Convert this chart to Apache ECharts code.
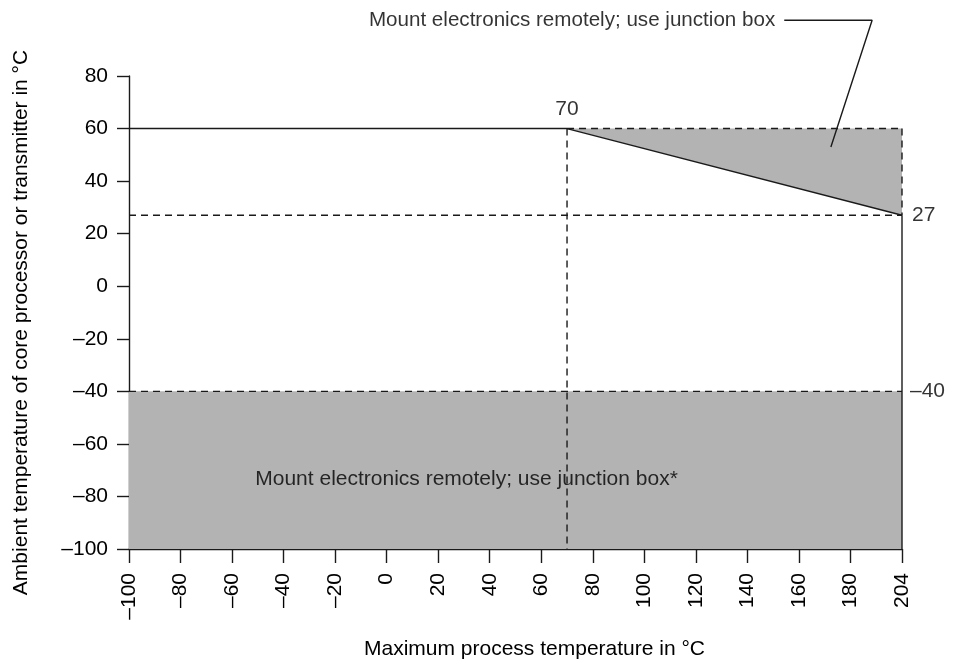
<!DOCTYPE html>
<html><head><meta charset="utf-8">
<script src="https://cdn.jsdelivr.net/npm/echarts@6/dist/echarts.min.js"></script>
<style>html,body{margin:0;padding:0;background:#fff}#c{width:962px;height:663px}</style>
</head><body><div id="c"></div>
<script>
// ---- data ----
const xMin = -100, xEnd = 200;          // axis end (drawn compressed, labelled 204 °C)
const xEndLabel = 204;
const yMin = -100, yMax = 80;
const xTickStep = 20, yTickStep = 20;
const kneeX = 70, upperY = 60, endY = 27;   // derating curve
const lowerLimit = -40;                      // min ambient
const limitCurve = [[xMin, upperY], [kneeX, upperY], [xEnd, endY]];
const leaderLine = [[154.3, 101.2], [188.4, 101.2], [172.4, 53]];
const topNote = 'Mount electronics remotely; use junction box';
const bottomNote = 'Mount electronics remotely; use junction box*';
const bottomNotePos = [31, -73.5];
const xName = 'Maximum process temperature in °C';
const yName = 'Ambient temperature of core processor or transmitter in °C';

const FONT = '"Liberation Sans", Arial, Helvetica, sans-serif';
const FS = 21;
const INK = '#1a1a1a';
const GREY = '#b3b3b3';
const dash = [7, 5];
const fmt = v => (v === xEnd ? String(xEndLabel) : String(v).replace('-', '\u2013'));

function poly(pts, style) {
  return {
    type: 'custom', coordinateSystem: 'cartesian2d', clip: false, z: 1,
    data: [0], silent: true,
    renderItem: (params, api) => ({
      type: 'polygon',
      shape: { points: pts.map(p => api.coord(p)) },
      style: Object.assign({ fill: GREY }, style)
    })
  };
}
function seg(data, type, z) {
  return {
    type: 'line', data, symbol: 'none', clip: false, silent: true, z: z || 3,
    lineStyle: { color: INK, width: 1.4, type: type === 'dashed' ? dash : 'solid' },
    animation: false
  };
}
function txt(pt, text, position, distance, size) {
  return {
    type: 'scatter', data: [pt], symbolSize: 0, clip: false, silent: true, z: 5,
    label: { show: true, formatter: text, position, distance: distance || 0,
      color: '#000', fontSize: size || FS, fontFamily: FONT }
  };
}

const chart = echarts.init(document.getElementById('c'), null, { renderer: 'canvas' });
chart.setOption({
  animation: false,
  backgroundColor: '#fff',
  grid: { left: 129, right: 60, top: 76, bottom: 114, containLabel: false, outerBoundsMode: 'none' },
  xAxis: {
    type: 'value', min: xMin, max: xEnd, interval: xTickStep,
    name: xName, nameLocation: 'middle', nameGap: 90,
    nameTextStyle: { color: '#000', fontSize: FS, fontFamily: FONT, padding: [0, 0, 0, 38] },
    axisLine: { show: true, onZero: false, lineStyle: { color: INK, width: 1.4 } },
    axisTick: { show: true, length: 14, lineStyle: { color: INK, width: 1.4 } },
    axisLabel: { rotate: 90, margin: 24, color: '#000', fontSize: FS, fontFamily: FONT, formatter: fmt },
    splitLine: { show: false }
  },
  yAxis: {
    type: 'value', min: yMin, max: yMax, interval: yTickStep,
    name: yName, nameLocation: 'middle', nameGap: 97,
    nameTextStyle: { color: '#000', fontSize: FS, fontFamily: FONT, padding: [0, 20, 0, 0] },
    axisLine: { show: true, onZero: false, lineStyle: { color: INK, width: 1.4 } },
    axisTick: { show: true, length: 12, lineStyle: { color: INK, width: 1.4 } },
    axisLabel: { margin: 21, color: '#000', fontSize: FS, fontFamily: FONT, formatter: fmt },
    splitLine: { show: false }
  },
  series: [
    poly([[xMin, yMin], [xEnd, yMin], [xEnd, lowerLimit], [xMin, lowerLimit]]),
    poly([[kneeX, upperY], [xEnd, upperY], [xEnd, endY]]),
    seg(limitCurve, 'solid'),
    seg([[xEnd, endY], [xEnd, yMin]], 'solid'),
    seg([[xMin, endY], [xEnd, endY]], 'dashed'),
    seg([[xMin, lowerLimit], [xEnd, lowerLimit]], 'dashed'),
    seg([[kneeX, upperY], [kneeX, yMin]], 'dashed'),
    seg([[kneeX, upperY], [xEnd, upperY]], 'dashed'),
    seg([[xEnd, upperY], [xEnd, endY]], 'dashed'),
    seg(leaderLine, 'solid'),
    txt([kneeX, upperY], String(kneeX), 'top', 9),
    txt([xEnd, endY], String(endY), 'right', 10),
    txt([xEnd, lowerLimit], fmt(lowerLimit), 'right', 8),
    txt(bottomNotePos, bottomNote, 'inside', 0),
    txt(leaderLine[0], topNote, 'left', 9, 20.6)
  ]
});
</script></body></html>
